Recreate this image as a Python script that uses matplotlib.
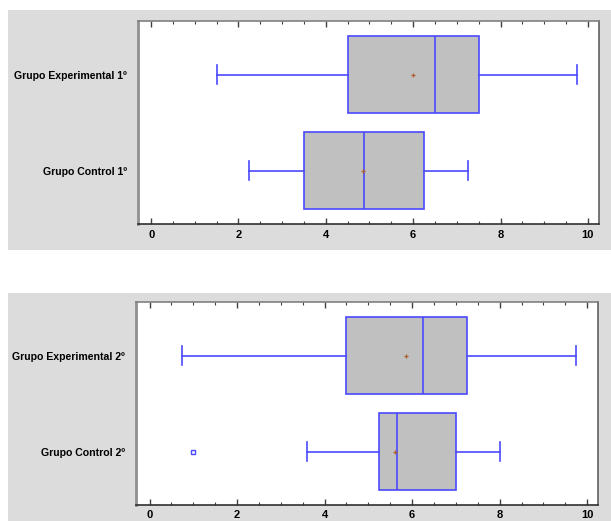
import matplotlib.pyplot as plt
from matplotlib.patches import Rectangle
from matplotlib.ticker import MultipleLocator

plt.rcParams['font.family'] = ['Liberation Sans', 'DejaVu Sans']

# one entry per box: (label, whislo, q1, median, q3, whishi, mean, outliers)
labels_1 = ['Grupo Control 1º', 'Grupo Experimental 1º']
whislo_1 = [2.25, 1.5]
q1_1 = [3.5, 4.5]
med_1 = [4.875, 6.5]
q3_1 = [6.25, 7.5]
whishi_1 = [7.25, 9.75]
mean_1 = [4.85, 6.0]
fliers_1 = [[], []]

labels_2 = ['Grupo Control 2º', 'Grupo Experimental 2º']
whislo_2 = [3.6, 0.75]
q1_2 = [5.25, 4.5]
med_2 = [5.65, 6.25]
q3_2 = [7.0, 7.25]
whishi_2 = [8.0, 9.75]
mean_2 = [5.6, 5.85]
fliers_2 = [[1.0], []]

blue = '#4a4aff'
fig = plt.figure(figsize=(6.11, 5.21), dpi=100)
fig.patch.set_facecolor('white')
fig.add_artist(Rectangle((0.013, 0.520), 0.987, 0.461, transform=fig.transFigure,
                         facecolor='#dcdcdc', edgecolor='none', zorder=0))
fig.add_artist(Rectangle((0.013, 0.0), 0.987, 0.4376, transform=fig.transFigure,
                         facecolor='#dcdcdc', edgecolor='none', zorder=0))


def draw(rect, labels, wlo, q1, med, q3, whi, mean, fliers):
    ax = fig.add_axes(rect)
    stats = []
    for i in range(len(labels)):
        stats.append(dict(label=labels[i], whislo=wlo[i], q1=q1[i], med=med[i],
                          q3=q3[i], whishi=whi[i], mean=mean[i], fliers=fliers[i]))
    ax.bxp(stats, positions=[1, 2], orientation='horizontal', widths=0.8,
           patch_artist=True, showmeans=True, capwidths=0.2,
           boxprops=dict(facecolor='#c0c0c0', edgecolor=blue, linewidth=1.2),
           medianprops=dict(color=blue, linewidth=1.2),
           whiskerprops=dict(color=blue, linewidth=1.2),
           capprops=dict(color=blue, linewidth=1.2),
           meanprops=dict(marker='+', markeredgecolor='#b0602a', markersize=3,
                          markeredgewidth=0.9),
           flierprops=dict(marker='s', markeredgecolor=blue, markerfacecolor='white',
                           markersize=3.5, markeredgewidth=1))
    ax.set_xlim(-0.3, 10.25)
    ax.set_ylim(0.443, 2.56)
    ax.xaxis.set_major_locator(MultipleLocator(2))
    ax.xaxis.set_minor_locator(MultipleLocator(0.5))
    ax.tick_params(axis='x', which='major', direction='in', length=4, width=1,
                   top=True, color='#404040', labelsize=8, pad=4)
    ax.tick_params(axis='x', which='minor', direction='in', length=2, width=0.8,
                   top=True, color='#404040')
    ax.tick_params(axis='y', length=0, labelsize=7.6, pad=8)
    for t in ax.get_xticklabels() + ax.get_yticklabels():
        t.set_fontweight('bold')
    ax.spines['left'].set_color('#909090')
    ax.spines['left'].set_linewidth(2)
    ax.spines['top'].set_color('#808080')
    ax.spines['top'].set_linewidth(1.2)
    ax.spines['right'].set_color('#606060')
    ax.spines['right'].set_linewidth(1.2)
    ax.spines['bottom'].set_color('#303030')
    ax.spines['bottom'].set_linewidth(1.2)
    return ax


draw([0.2259, 0.570, 0.7541, 0.390], labels_1, whislo_1, q1_1, med_1, q3_1,
     whishi_1, mean_1, fliers_1)
draw([0.2232, 0.031, 0.7558, 0.389], labels_2, whislo_2, q1_2, med_2, q3_2,
     whishi_2, mean_2, fliers_2)

fig.savefig('out.png', dpi=100)
